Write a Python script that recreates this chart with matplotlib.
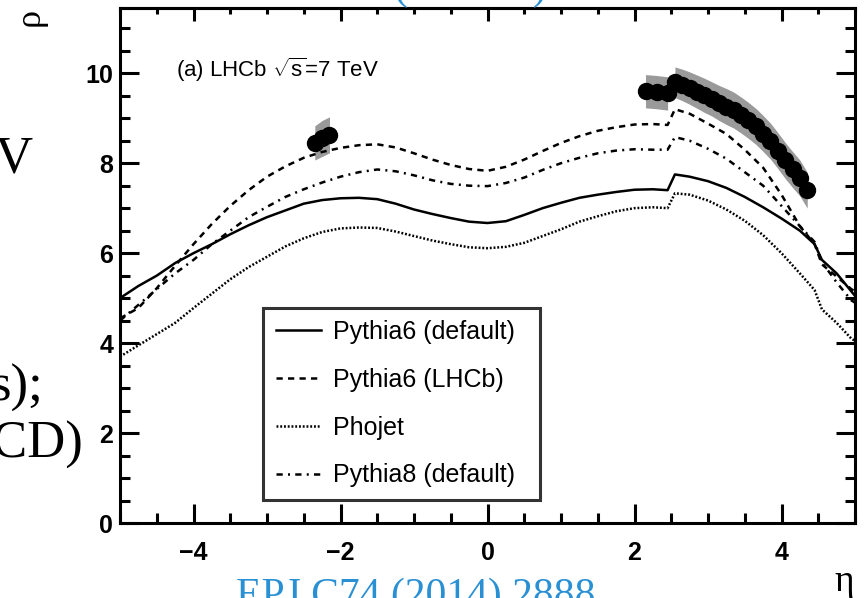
import numpy as np
import matplotlib
matplotlib.use('Agg')
import matplotlib.pyplot as plt

plt.rcParams['font.family'] = ['Liberation Sans', 'DejaVu Sans']
plt.rcParams['mathtext.fontset'] = 'custom'
plt.rcParams['mathtext.rm'] = 'Liberation Sans'
plt.rcParams['mathtext.it'] = 'Liberation Sans'

# generator curves
eta = [-5, -4.75, -4.5, -4.25, -4, -3.75, -3.5, -3.25, -3, -2.75, -2.5, -2.25, -2, -1.75,
       -1.5, -1.25, -1, -0.75, -0.5, -0.25, 0, 0.25, 0.5, 0.75, 1, 1.25, 1.5, 1.75, 2, 2.25,
       2.45, 2.55, 2.75, 3, 3.25, 3.5, 3.75, 4, 4.25, 4.45, 4.55, 4.75, 4.95, 5]
p6_default = [5.0, 5.27, 5.5, 5.78, 6.0, 6.2, 6.42, 6.62, 6.8, 6.95, 7.1, 7.18, 7.22, 7.23,
              7.2, 7.1, 6.97, 6.87, 6.78, 6.7, 6.67, 6.71, 6.85, 7.0, 7.12, 7.23, 7.3, 7.36, 7.41, 7.42,
              7.4, 7.75, 7.7, 7.6, 7.45, 7.25, 7.02, 6.77, 6.5, 6.2, 5.85, 5.55, 5.15, 5.05]
p6_lhcb = [4.55, 4.78, 5.22, 5.72, 6.2, 6.65, 7.05, 7.4, 7.7, 7.93, 8.12, 8.25, 8.34, 8.4,
           8.42, 8.35, 8.22, 8.08, 7.96, 7.87, 7.83, 7.92, 8.08, 8.27, 8.45, 8.6, 8.72, 8.8, 8.86, 8.87,
           8.85, 9.2, 9.1, 8.88, 8.65, 8.3, 7.9, 7.3, 6.6, 6.2, 5.75, 5.48, 5.2, 5.15]
phojet = [3.7, 3.95, 4.2, 4.45, 4.78, 5.1, 5.42, 5.69, 5.92, 6.15, 6.33, 6.47, 6.55, 6.57,
          6.56, 6.48, 6.38, 6.28, 6.2, 6.13, 6.11, 6.14, 6.23, 6.38, 6.53, 6.7, 6.82, 6.93, 7.0, 7.02,
          7.0, 7.33, 7.3, 7.17, 6.97, 6.72, 6.4, 6.0, 5.55, 5.18, 4.75, 4.45, 4.1, 4.05]
p8_default = [4.5, 4.85, 5.2, 5.55, 5.85, 6.2, 6.5, 6.8, 7.03, 7.25, 7.42, 7.57, 7.7, 7.8,
              7.86, 7.82, 7.73, 7.62, 7.54, 7.5, 7.49, 7.56, 7.68, 7.85, 8.0, 8.12, 8.22, 8.28, 8.31, 8.3,
              8.3, 8.58, 8.5, 8.32, 8.1, 7.8, 7.5, 7.05, 6.6, 6.25, 5.8, 5.35, 4.95, 4.9]

# LHCb data points
bwd_eta = [-2.35, -2.25, -2.15]
bwd_rho = [8.45, 8.55, 8.63]
bwd_err = [0.38, 0.4, 0.4]

fwd1_eta = [2.15, 2.3, 2.45]
fwd1_rho = [9.6, 9.58, 9.55]
fwd1_err = [0.37, 0.37, 0.37]

fwd2_eta = [2.55, 2.65, 2.75, 2.85, 2.95, 3.05, 3.15, 3.25, 3.35, 3.45,
            3.55, 3.65, 3.75, 3.85, 3.95, 4.05, 4.15, 4.25, 4.35]
fwd2_rho = [9.8, 9.74, 9.67, 9.59, 9.51, 9.43, 9.34, 9.26, 9.18, 9.07,
            8.95, 8.82, 8.66, 8.49, 8.28, 8.06, 7.86, 7.67, 7.4]
fwd2_err = [0.34, 0.35, 0.36, 0.37, 0.38, 0.38, 0.39, 0.4, 0.4, 0.4,
            0.4, 0.4, 0.4, 0.4, 0.4, 0.4, 0.4, 0.4, 0.4]

legend_labels = ['Pythia6 (default)', 'Pythia6 (LHCb)', 'Phojet', 'Pythia8 (default)']

fig = plt.figure(figsize=(8.66, 5.98), dpi=100)
ax = fig.add_axes([0.1386, 0.1254, 0.8487, 0.8612])

for xs, ys, es in [(bwd_eta, bwd_rho, bwd_err), (fwd1_eta, fwd1_rho, fwd1_err),
                   (fwd2_eta, fwd2_rho, fwd2_err)]:
    ys = np.array(ys)
    es = np.array(es)
    ax.fill_between(xs, ys - es, ys + es, color='#9a9a9a', lw=0, zorder=1)

lw = 1.8
l1, = ax.plot(eta, p6_default, color='black', lw=lw, zorder=2)
l2, = ax.plot(eta, p6_lhcb, color='black', lw=lw, dashes=(2.5, 2.1), zorder=2)
l3, = ax.plot(eta, phojet, color='black', lw=lw, dashes=(0.75, 0.75), zorder=2)
l4, = ax.plot(eta, p8_default, color='black', lw=lw, dashes=(2.5, 2.1, 0.8, 2.1), zorder=2)

ax.plot(bwd_eta + fwd1_eta + fwd2_eta, bwd_rho + fwd1_rho + fwd2_rho, 'o', color='black',
        ms=11.5, zorder=3)

ax.set_xlim(-5, 5)
ax.set_ylim(0, 11.45)
ax.set_xticks([-4, -2, 0, 2, 4])
ax.set_xticks(np.arange(-5, 5.01, 0.5), minor=True)
ax.set_yticks([0, 2, 4, 6, 8, 10])
ax.set_yticks(np.arange(0, 11.45, 0.5), minor=True)
ax.tick_params(which='both', direction='in', top=False, right=True, width=2.2)
ax.tick_params(which='major', length=13.5)
ax.tick_params(which='minor', length=7)
ax.tick_params(axis='x', which='major', pad=13)
ax.tick_params(axis='y', which='major', pad=5)
for lab in ax.get_xticklabels() + ax.get_yticklabels():
    lab.set_fontsize(18)
    lab.set_fontweight('bold')
for sp in ax.spines.values():
    sp.set_linewidth(2.2)

# shorter ticks along the top edge
secx = ax.secondary_xaxis('top')
secx.set_xticks([-4, -2, 0, 2, 4])
secx.set_xticks(np.arange(-5, 5.01, 0.5), minor=True)
secx.tick_params(which='both', direction='in', labeltop=False, width=2.2)
secx.tick_params(which='major', length=9.5)
secx.tick_params(which='minor', length=4.5)
secx.spines['top'].set_linewidth(2.2)

ax.set_ylabel('ρ', fontsize=26, family=['Liberation Serif', 'DejaVu Serif'], loc='top')
ax.yaxis.set_label_coords(-0.1, 1.0)
ax.set_xlabel('η', fontsize=27, family=['Liberation Serif', 'DejaVu Serif'], loc='right')
ax.xaxis.set_label_coords(0.999, -0.08)

ax.text(-4.245, 10.07, r'(a) LHCb $\sqrt{s}$=7 TeV', fontsize=16, va='center', ha='left')

leg = ax.legend([l1, l2, l3, l4], legend_labels, loc='lower left',
                bbox_to_anchor=(0.1946, 0.0447, 0.377, 0.384), mode='expand',
                borderaxespad=0, fontsize=18, frameon=True, fancybox=False,
                edgecolor='black', handlelength=1.8, handletextpad=0.5,
                labelspacing=0.95, borderpad=0.5)
leg.get_frame().set_linewidth(2.2)

# slide text around the cropped figure
serif = ['Liberation Serif', 'DejaVu Serif']
fig.text(33 / 866, 1 - 173 / 598, 'TeV', fontsize=38, family=serif, ha='right', va='baseline')
fig.text(44 / 866, 1 - 401 / 598, 's);', fontsize=38, family=serif, ha='right', va='baseline')
fig.text(84 / 866, 1 - 458 / 598, 'QCD)', fontsize=38, family=serif, ha='right', va='baseline')
fig.text(236 / 866, 1 - 607 / 598, 'EPJ C74 (2014) 2888', fontsize=30, family=serif,
         color='#2a90d4', ha='left', va='baseline')
fig.text(394 / 866, 1 + 1 / 598, '( LHCb )', fontsize=30, family=serif,
         color='#2a90d4', ha='left', va='baseline')

fig.savefig('out.png', dpi=100)
